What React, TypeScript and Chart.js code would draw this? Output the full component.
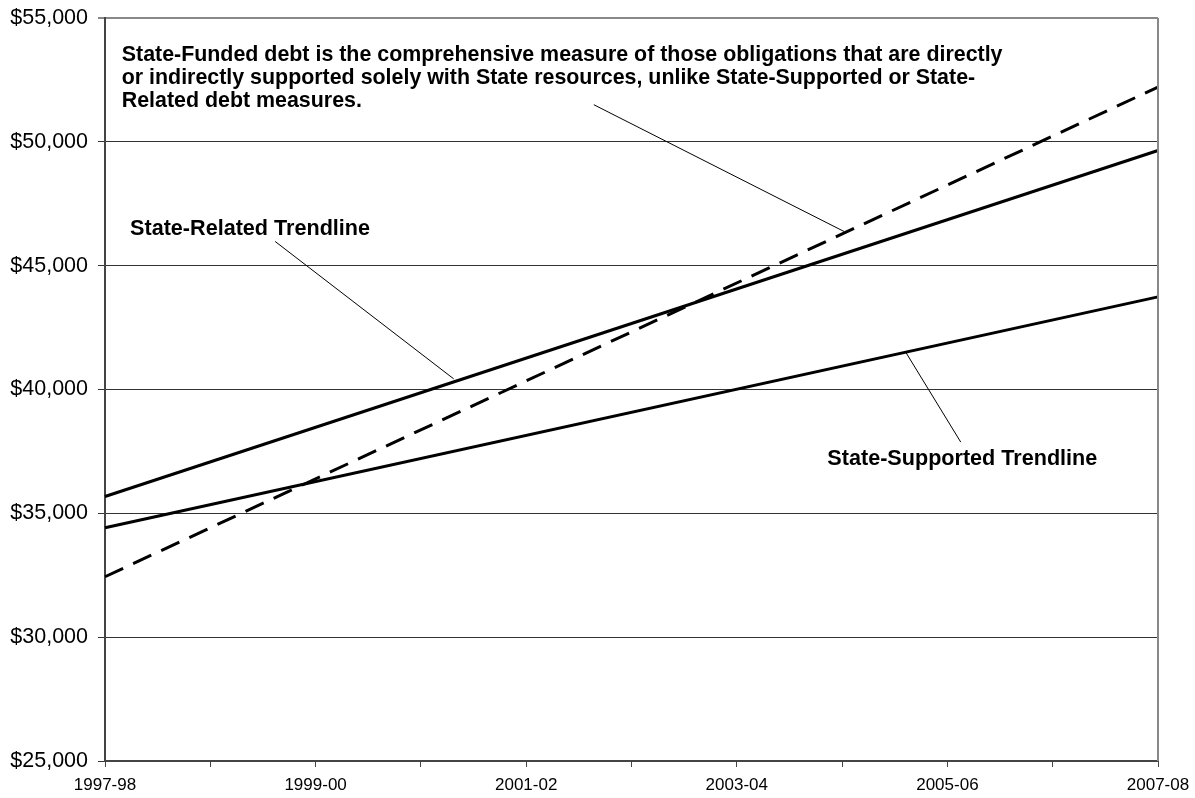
import React, { useEffect, useRef } from "react";
import { Chart, registerables } from "chart.js";

Chart.register(...registerables);

const categories = [
  "1997-98", "1998-99", "1999-00", "2000-01", "2001-02", "2002-03",
  "2003-04", "2004-05", "2005-06", "2006-07", "2007-08",
];

// Trendlines: values read at the first and last fiscal year (straight lines between them)
const stateRelated = [35680, null, null, null, null, null, null, null, null, null, 49650];
const stateSupported = [34420, null, null, null, null, null, null, null, null, null, 43740];
const stateFunded = [32440, null, null, null, null, null, null, null, null, null, 52210];

const yMin = 25000;
const yMax = 55000;
const yStep = 5000;

const fundedNote = [
  "State-Funded debt is the comprehensive measure of those obligations that are directly",
  "or indirectly supported solely with State resources, unlike State-Supported or State-",
  "Related debt measures.",
];
const relatedNote = ["State-Related Trendline"];
const supportedNote = ["State-Supported Trendline"];

// annotation anchors in data space (category index, value)
const notes = [
  { lines: fundedNote, x: 0.159, y: 53247, size: 21.4 },
  { lines: relatedNote, x: 0.238, y: 46247, size: 21.6 },
  { lines: supportedNote, x: 6.86, y: 36957, size: 21.6 },
];
const leaders = [
  { x1: 4.642, y1: 51499, x2: 7.018, y2: 46381 },
  { x1: 1.616, y1: 45977, x2: 3.311, y2: 40431 },
  { x1: 7.605, y1: 41501, x2: 8.127, y2: 37874 },
];

const FONT = '"Liberation Sans", Arial, Helvetica, sans-serif';

const annotationPlugin = {
  id: "annotations",
  afterDatasetsDraw(chart: any) {
    const ctx = chart.ctx;
    const xs = chart.scales.x;
    const ys = chart.scales.y;
    const area = chart.chartArea;
    ctx.save();
    // right border
    ctx.strokeStyle = "#888";
    ctx.lineWidth = 2;
    ctx.beginPath();
    ctx.moveTo(area.right, area.top);
    ctx.lineTo(area.right, area.bottom);
    ctx.stroke();
    // leader lines
    ctx.strokeStyle = "#000";
    ctx.lineWidth = 1;
    leaders.forEach((l) => {
      ctx.beginPath();
      ctx.moveTo(xs.getPixelForValue(l.x1), ys.getPixelForValue(l.y1));
      ctx.lineTo(xs.getPixelForValue(l.x2), ys.getPixelForValue(l.y2));
      ctx.stroke();
    });
    ctx.fillStyle = "#000";
    ctx.textAlign = "left";
    ctx.textBaseline = "alphabetic";
    notes.forEach((n) => {
      ctx.font = `bold ${n.size}px ${FONT}`;
      const px = xs.getPixelForValue(n.x);
      const py = ys.getPixelForValue(n.y);
      n.lines.forEach((line, i) => {
        ctx.fillText(line, px, py + i * 23);
      });
    });
    ctx.restore();
  },
};

export default function App() {
  const canvasRef = useRef<HTMLCanvasElement | null>(null);

  useEffect(() => {
    if (!canvasRef.current) return;
    const line = (data: (number | null)[], dash: number[]) => ({
      data,
      borderColor: "#000",
      backgroundColor: "#000",
      borderWidth: 3,
      borderDash: dash,
      pointRadius: 0,
      pointHoverRadius: 0,
      spanGaps: true,
      tension: 0,
      fill: false,
    });
    const chart = new Chart(canvasRef.current, {
      type: "line",
      data: {
        labels: categories,
        datasets: [
          { label: "State-Related", ...line(stateRelated, []) },
          { label: "State-Supported", ...line(stateSupported, []) },
          { label: "State-Funded", ...line(stateFunded, [20, 11]) },
        ],
      },
      options: {
        animation: false,
        responsive: true,
        maintainAspectRatio: false,
        layout: { padding: { top: 18, right: 37, left: 0, bottom: 0 } },
        plugins: {
          legend: { display: false },
          tooltip: { enabled: false },
        },
        scales: {
          x: {
            type: "category",
            offset: false,
            afterFit: (s: any) => {
              s.height = 37;
              s.paddingLeft = 0;
              s.paddingRight = 0;
            },
            border: { color: "#444", width: 2 },
            grid: {
              drawOnChartArea: false,
              drawTicks: true,
              tickLength: 6,
              color: "#444",
              lineWidth: 1,
            },
            ticks: {
              autoSkip: false,
              maxRotation: 0,
              minRotation: 0,
              padding: 8,
              color: "#000",
              font: { family: FONT, size: 17 },
              callback: (_v: any, i: number) => (i % 2 === 0 ? categories[i] : ""),
            },
          },
          y: {
            min: yMin,
            max: yMax,
            afterFit: (s: any) => {
              s.width = 105;
              s.paddingTop = 0;
              s.paddingBottom = 0;
            },
            border: { color: "#444", width: 2 },
            grid: {
              drawOnChartArea: true,
              drawTicks: true,
              tickLength: 7,
              color: (c: any) => (c.tick && c.tick.value === yMax ? "#888" : "#333"),
              lineWidth: (c: any) => (c.tick && c.tick.value === yMax ? 2 : 1),
            },
            ticks: {
              stepSize: yStep,
              padding: 10,
              color: "#000",
              font: { family: FONT, size: 21.5 },
              callback: (v: any) => "$" + Number(v).toLocaleString("en-US"),
            },
          },
        },
      },
      plugins: [annotationPlugin],
    });
    return () => chart.destroy();
  }, []);

  return (
    <div
      style={{
        position: "fixed",
        left: 0,
        top: 0,
        width: "1195px",
        height: "798px",
        background: "#fff",
      }}
    >
      <canvas ref={canvasRef} />
    </div>
  );
}
